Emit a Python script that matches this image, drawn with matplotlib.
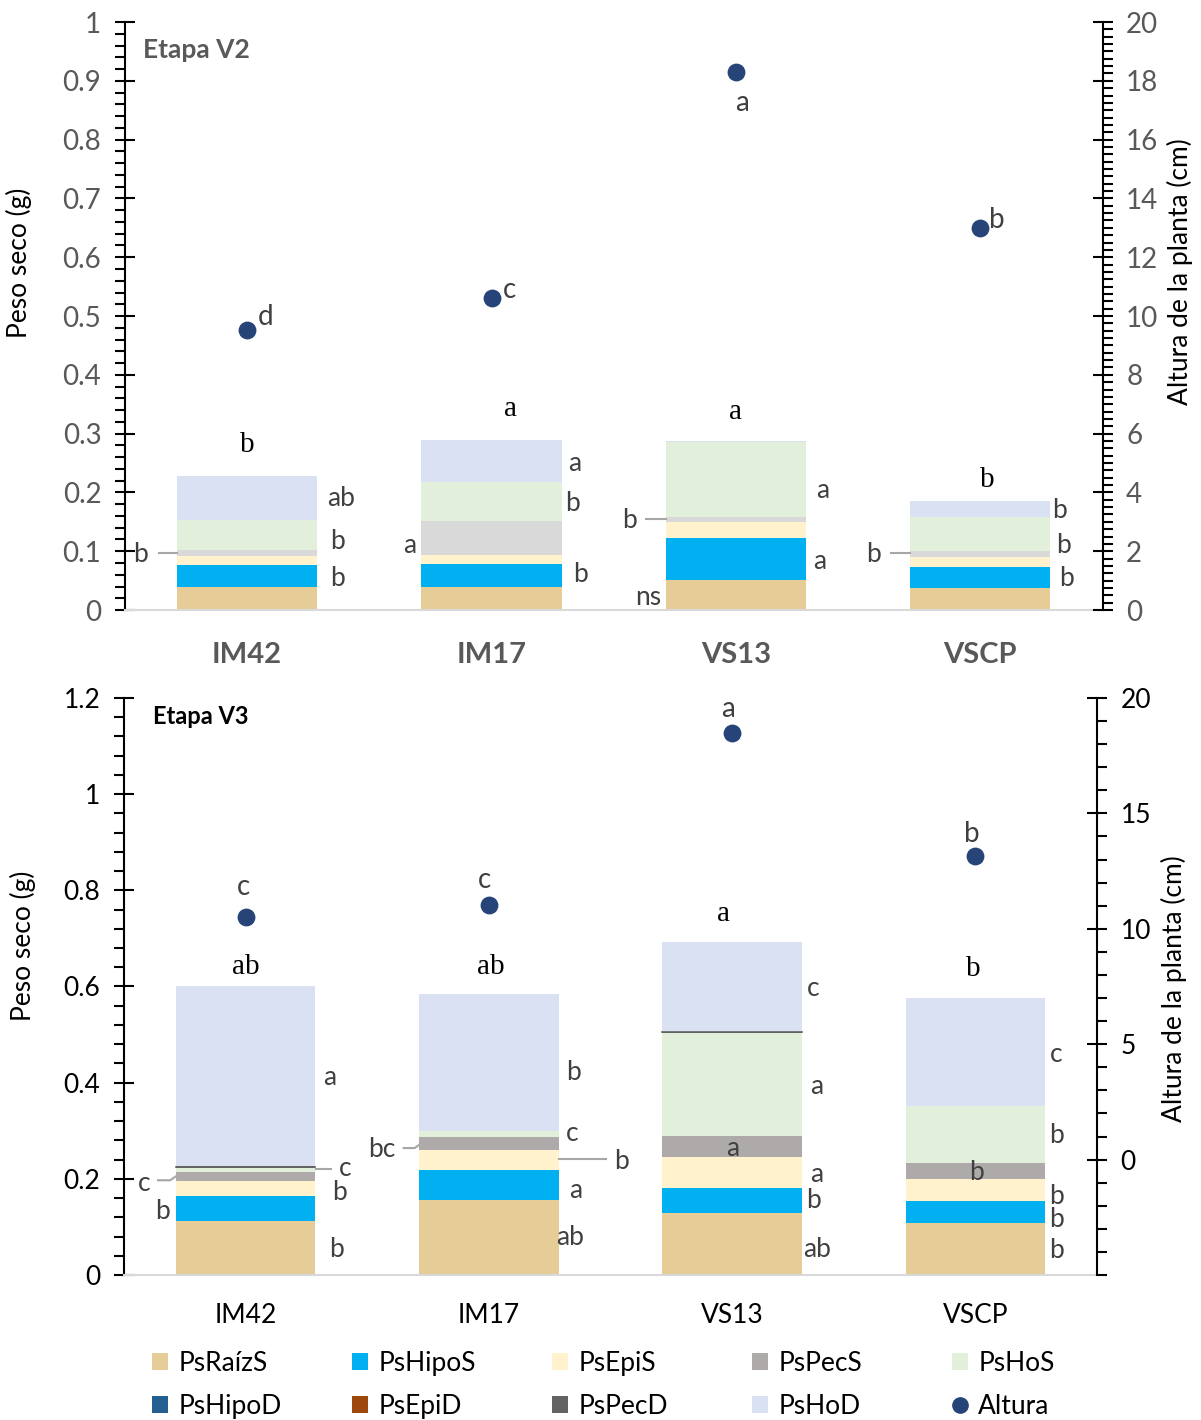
import numpy as np
import matplotlib.pyplot as plt
from matplotlib.patches import Patch
from matplotlib.lines import Line2D
from matplotlib.ticker import MultipleLocator, FuncFormatter

plt.rcParams['font.family'] = ['Lato', 'DejaVu Sans']

lineas = ['IM42', 'IM17', 'VS13', 'VSCP']
componentes = ['PsRaízS', 'PsHipoS', 'PsEpiS', 'PsPecS', 'PsHoS',
               'PsHipoD', 'PsEpiD', 'PsPecD', 'PsHoD']

# Etapa V2: peso seco por órgano (g)
v2_raiz = [0.040, 0.040, 0.051, 0.037]
v2_hipo = [0.037, 0.039, 0.071, 0.036]
v2_epi = [0.015, 0.015, 0.027, 0.017]
v2_pec = [0.010, 0.058, 0.010, 0.010]
v2_hos = [0.051, 0.066, 0.126, 0.058]
v2_hipod = [0.0, 0.0, 0.0, 0.0]
v2_epid = [0.0, 0.0, 0.0, 0.0]
v2_pecd = [0.0, 0.0, 0.0, 0.0]
v2_hod = [0.075, 0.071, 0.003, 0.027]
v2_altura = [9.52, 10.61, 18.30, 12.99]  # cm

# Etapa V3
v3_raiz = [0.112, 0.156, 0.129, 0.108]
v3_hipo = [0.052, 0.062, 0.052, 0.046]
v3_epi = [0.032, 0.042, 0.064, 0.046]
v3_pec = [0.018, 0.027, 0.044, 0.033]
v3_hos = [0.008, 0.012, 0.215, 0.119]
v3_hipod = [0.0, 0.0, 0.0, 0.0]
v3_epid = [0.0, 0.0, 0.0, 0.0]
v3_pecd = [0.004, 0.0, 0.002, 0.0]
v3_hod = [0.374, 0.285, 0.187, 0.225]
v3_altura = [10.53, 11.05, 18.46, 13.17]

colores = ['#E6CD98', '#00B0F0', '#FFF2CC', '#AEAAAA', '#E2EFDA',
           '#255E91', '#9E480E', '#636363', '#D9E1F2']
color_altura = '#264478'

# letras de significancia: (línea, dx, y, texto, tipo)
# tipo: 's' sans, 'r' serif sobre la barra, 'h' sobre el eje de altura
letras_v2 = [
    (0, 0.0, 0.281, 'b', 'r'), (0, 0.385, 0.189, 'ab', 's'), (0, 0.37, 0.117, 'b', 's'),
    (0, 0.37, 0.054, 'b', 's'), (0, -0.435, 0.094, 'b', 's'), (0, 0.09, 9.97, 'd', 'h'),
    (1, 0.076, 0.342, 'a', 'r'), (1, 0.34, 0.25, 'a', 's'), (1, 0.33, 0.182, 'b', 's'),
    (1, -0.333, 0.109, 'a', 's'), (1, 0.366, 0.060, 'b', 's'), (1, 0.092, 10.88, 'c', 'h'),
    (2, 0.0, 0.337, 'a', 'r'), (2, 0.356, 0.204, 'a', 's'), (2, -0.434, 0.153, 'b', 's'),
    (2, 0.344, 0.082, 'a', 's'), (2, -0.36, 0.022, 'ns', 's'), (2, 0.041, 17.24, 'a', 'h'),
    (3, 0.03, 0.221, 'b', 'r'), (3, 0.325, 0.170, 'b', 's'), (3, 0.342, 0.110, 'b', 's'),
    (3, -0.436, 0.094, 'b', 's'), (3, 0.354, 0.054, 'b', 's'), (3, 0.08, 13.27, 'b', 'h'),
]
guias_v2 = [
    (0, [-0.36, -0.287], [0.097, 0.097]),
    (2, [-0.368, -0.286], [0.155, 0.155]),
    (3, [-0.366, -0.288], [0.097, 0.097]),
]

letras_v3 = [
    (0, 0.0, 0.640, 'ab', 'r'), (0, 0.346, 0.410, 'a', 's'), (0, 0.41, 0.221, 'c', 's'),
    (0, 0.387, 0.171, 'b', 's'), (0, -0.416, 0.191, 'c', 's'), (0, -0.342, 0.133, 'b', 's'),
    (0, 0.374, 0.054, 'b', 's'), (0, 0.008, 11.83, 'c', 'h'),
    (1, 0.008, 0.640, 'ab', 'r'), (1, 0.35, 0.422, 'b', 's'), (1, 0.342, 0.295, 'c', 's'),
    (1, -0.44, 0.262, 'bc', 's'), (1, 0.547, 0.237, 'b', 's'), (1, 0.358, 0.175, 'a', 's'),
    (1, 0.333, 0.077, 'ab', 's'), (1, 0.0, 12.13, 'c', 'h'),
    (2, -0.037, 0.750, 'a', 'r'), (2, 0.333, 0.595, 'c', 's'), (2, 0.346, 0.393, 'a', 's'),
    (2, 0.004, 0.264, 'a', 's'), (2, 0.346, 0.210, 'a', 's'), (2, 0.333, 0.154, 'b', 's'),
    (2, 0.35, 0.054, 'ab', 's'), (2, 0.0, 19.5, 'a', 'h'),
    (3, -0.008, 0.636, 'b', 'r'), (3, 0.333, 0.459, 'c', 's'), (3, 0.333, 0.291, 'b', 's'),
    (3, 0.004, 0.214, 'b', 's'), (3, 0.333, 0.164, 'b', 's'), (3, 0.333, 0.116, 'b', 's'),
    (3, 0.333, 0.052, 'b', 's'), (3, 0.0, 14.12, 'b', 'h'),
]
guias_v3 = [
    (0, [0.288, 0.35], [0.220, 0.220]),
    (0, [-0.36, -0.31, -0.287], [0.197, 0.197, 0.205]),
    (1, [-0.35, -0.305, -0.288], [0.264, 0.264, 0.270]),
    (1, [0.288, 0.48], [0.241, 0.241]),
]


def panel(rect, capas, altura, ymax, ymaj, ymin, y2lim, y2maj, y2min,
          titulo, letras, guias, gris_pec, estilo):
    ax = fig.add_axes(rect)
    x = np.arange(len(lineas))
    base = np.zeros(len(lineas))
    for k, capa in enumerate(capas):
        c = colores[k]
        if k == 3 and gris_pec:
            c = '#D9D9D9'
        ax.bar(x, capa, 0.573, bottom=base, color=c, linewidth=0, zorder=2)
        base += np.array(capa)
    # línea fina de PsPecD
    for i in range(len(lineas)):
        if capas[7][i] > 0:
            y0 = sum(capas[k][i] for k in range(7))
            ax.plot([i - 0.2865, i + 0.2865], [y0 + capas[7][i] / 2] * 2,
                    color=colores[7], lw=1.2, zorder=3)

    ax.set_xlim(-0.5, 3.5)
    ax.set_ylim(0, ymax)
    ax.yaxis.set_major_locator(MultipleLocator(ymaj))
    ax.yaxis.set_minor_locator(MultipleLocator(ymin))
    ax.yaxis.set_major_formatter(FuncFormatter(lambda v, p: f'{v:g}'))
    ax.set_xticks(x)
    ax.set_xticklabels(lineas, fontsize=estilo['xsize'], color=estilo['color'],
                       fontweight=estilo['xweight'])
    ax.tick_params(axis='x', length=0, pad=estilo['xpad'])
    ax.tick_params(axis='y', which='major', direction='inout', length=14, width=1.5,
                   labelsize=estilo['ysize'], labelcolor=estilo['color'], pad=10)
    ax.tick_params(axis='y', which='minor', direction='out', length=7, width=1.5)
    for s in ['top', 'right']:
        ax.spines[s].set_visible(False)
    ax.spines['left'].set_linewidth(1.5)
    ax.spines['bottom'].set_color('#D9D9D9')
    ax.spines['bottom'].set_linewidth(1.5)
    ax.set_ylabel('Peso seco (g)', fontsize=19, color='black')
    ax.yaxis.set_label_coords(estilo['ylab'][0], estilo['ylab'][1])
    ax.text(estilo['tit'][0], estilo['tit'][1], titulo, transform=ax.transAxes,
            fontsize=estilo['titsize'], fontweight='bold', color=estilo['titcolor'],
            ha='left', va='center')

    ax2 = ax.twinx()
    ax2.set_ylim(*y2lim)
    ax2.set_yticks(y2maj)
    ax2.yaxis.set_minor_locator(MultipleLocator(y2min))
    ax2.scatter(x, altura, s=140, color=color_altura, zorder=4)
    ax2.tick_params(axis='y', which='major', direction='inout', length=14, width=1.5,
                    labelsize=estilo['ysize'], labelcolor=estilo['color'], pad=10)
    ax2.tick_params(axis='y', which='minor', direction='out', length=7, width=1.5)
    for s in ['top', 'left', 'bottom']:
        ax2.spines[s].set_visible(False)
    ax2.spines['right'].set_linewidth(1.5)
    ax2.set_ylabel('Altura de la planta (cm)', fontsize=19, color='black')
    ax2.yaxis.set_label_coords(estilo['y2lab'][0], estilo['y2lab'][1])

    for i, dx, y, t, tipo in letras:
        if tipo == 'r':
            ax2.text(i + dx, y, t, transform=ax.transData, fontsize=21,
                     family='Liberation Serif', ha='center', va='center', color='black')
        elif tipo == 'h':
            ax2.text(i + dx - 0.045, y, t, fontsize=20, ha='left', va='center',
                     color='#404040')
        else:
            ax2.text(i + dx, y, t, transform=ax.transData, fontsize=19,
                     ha='center', va='center', color='#404040')
    for i, xs, ys in guias:
        ax.plot([i + v for v in xs], ys, color='#A6A6A6', lw=1.5, zorder=3)
    return ax, ax2


fig = plt.figure(figsize=(12.01, 14.20), dpi=100)

capas_v2 = [v2_raiz, v2_hipo, v2_epi, v2_pec, v2_hos, v2_hipod, v2_epid, v2_pecd, v2_hod]
capas_v3 = [v3_raiz, v3_hipo, v3_epi, v3_pec, v3_hos, v3_hipod, v3_epid, v3_pecd, v3_hod]

estilo_v2 = dict(color='#595959', xsize=21, xweight='bold', xpad=23, ysize=20,
                 ylab=(-0.095, 0.59), y2lab=(1.066, 0.575), tit=(0.018, 0.952),
                 titsize=19, titcolor='#595959')
estilo_v3 = dict(color='black', xsize=19, xweight='normal', xpad=20, ysize=19,
                 ylab=(-0.09, 0.57), y2lab=(1.066, 0.497), tit=(0.03, 0.967),
                 titsize=17, titcolor='black')

panel([0.104, 0.5704, 0.814, 0.4141], capas_v2, v2_altura, 1.0, 0.1, 0.02,
      (0, 20), [0, 2, 4, 6, 8, 10, 12, 14, 16, 18, 20], 0.25,
      'Etapa V2', letras_v2, guias_v2, True, estilo_v2)
panel([0.1032, 0.1021, 0.8102, 0.4064], capas_v3, v3_altura, 1.2, 0.2, 0.04,
      (-5, 20), [0, 5, 10, 15, 20], 1,
      'Etapa V3', letras_v3, guias_v3, False, estilo_v3)

# leyenda en cinco columnas de ancho fijo
manejadores = [Patch(facecolor=c, edgecolor='none') for c in colores]
manejadores.append(Line2D([], [], marker='o', linestyle='none', color=color_altura,
                          markersize=11))
etiquetas = componentes + ['Altura']
filas = [[0, 1, 2, 3, 4], [5, 6, 7, 8, 9]]
for col in range(5):
    idx = [filas[0][col], filas[1][col]]
    fig.legend([manejadores[j] for j in idx], [etiquetas[j] for j in idx],
               loc='upper left', bbox_to_anchor=((152 + 200 * col) / 1201, 1 - 1351 / 1420),
               frameon=False, fontsize=19, handlelength=0.6, handleheight=0.6,
               handletextpad=0.4, labelspacing=0.68, borderpad=0, borderaxespad=0)

fig.savefig('out.png', dpi=100)
